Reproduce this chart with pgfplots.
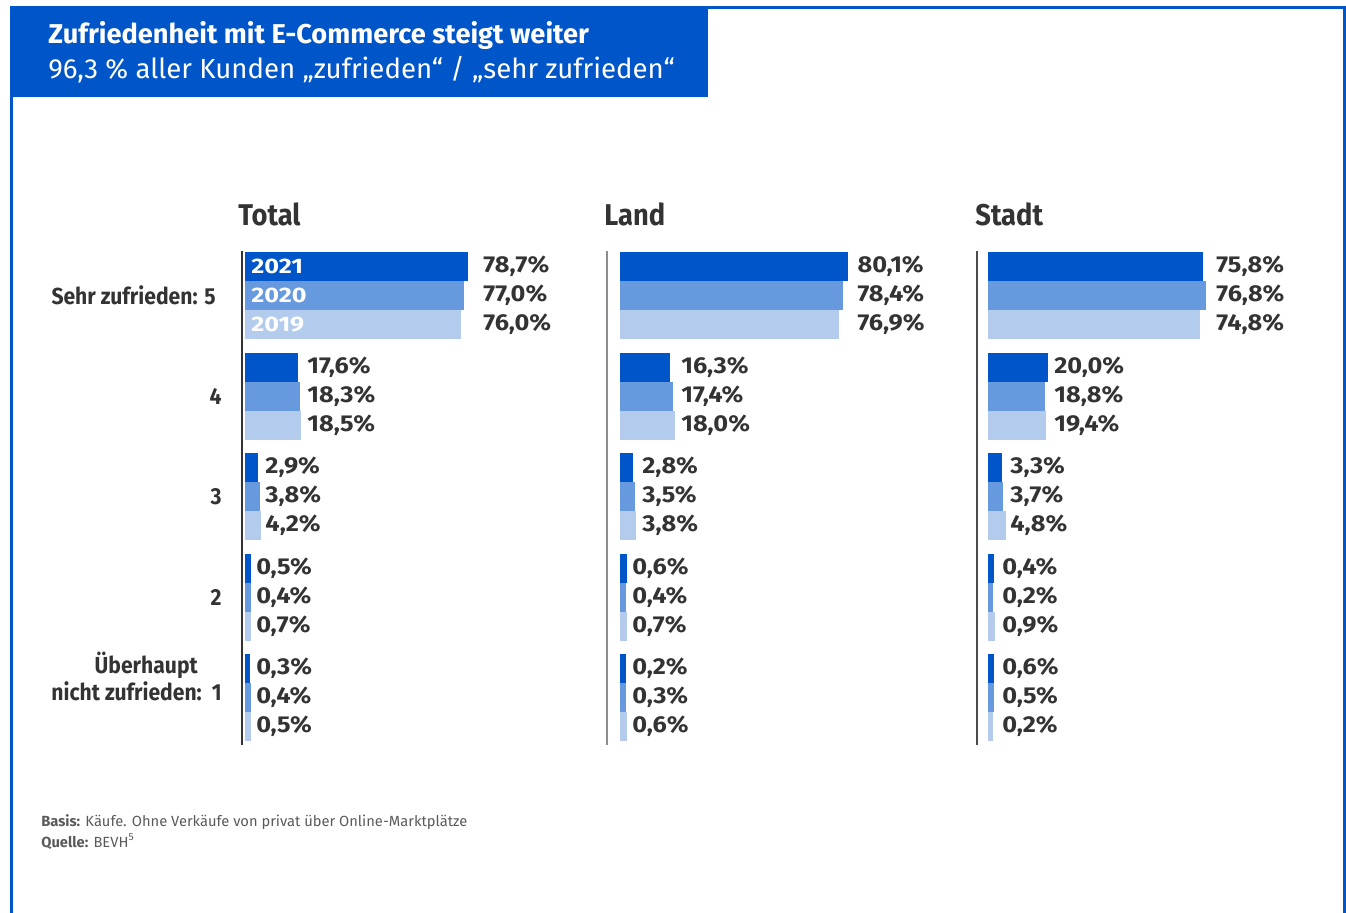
\documentclass[border=0pt]{standalone}
\usepackage{fontspec}
\setmainfont{Fira Sans}
\newfontfamily\condfont{Fira Sans}[FakeStretch=0.91]
\newfontfamily\numfont{Fira Sans}[FakeStretch=1.1]
\newfontfamily\yearfont{Fira Sans}[FakeStretch=1.2]
\usepackage{pgfplots}
\usepackage{pgfplotstable}
\pgfplotsset{compat=1.18}

\definecolor{c21}{HTML}{0055C8}
\definecolor{c20}{HTML}{6699DD}
\definecolor{c19}{HTML}{B3CCEE}
\definecolor{txt}{HTML}{333333}
\definecolor{foot}{HTML}{5A5A5A}

% shares in percent; y = rating group (0 = "5" ... -4 = "1"), lx = where the value labels start
\pgfplotstableread{
y   v21  v20  v19  lx
0   78.7 77.0 76.0 84.9
-1  17.6 18.3 18.5 21.6
-2  2.9  3.8  4.2  6.5
-3  0.5  0.4  0.7  3.2
-4  0.3  0.4  0.5  3.2
}\total
\pgfplotstableread{
y   v21  v20  v19  lx
0   80.1 78.4 76.9 84.4
-1  16.3 17.4 18.0 21.0
-2  2.8  3.5  3.8  7.0
-3  0.6  0.4  0.7  3.4
-4  0.2  0.3  0.6  3.4
}\land
\pgfplotstableread{
y   v21  v20  v19  lx
0   75.8 76.8 74.8 81.3
-1  20.0 18.8 19.4 23.0
-2  3.3  3.7  4.8  7.2
-3  0.4  0.2  0.9  4.3
-4  0.6  0.5  0.2  4.3
}\stadt

\pgfplotsset{
  panel/.style={x=1.39pt, y=50.25pt, ymin=-4.473, ymax=0.443, xmax=95,
    hide x axis, axis y line*=left, axis line style={-},
    major tick length=0pt, clip=false, anchor=north west, ytick=\empty},
  bars/.style={xbar, bar width=0.2388, line width=2.5pt, fill=#1, draw=#1},
  vals/.style={draw=none, point meta=explicit,
    nodes near coords={\pgfmathprintnumber[fixed,fixed zerofill,precision=1,use comma,assume math mode=true]{\pgfplotspointmeta}\%},
    nodes near coords align=horizontal,
    every node near coord/.append style={anchor=west, inner sep=0pt,
      font=\numfont\fontsize{11.5}{12}\selectfont\bfseries, text=txt}},
}
\tikzset{yearlab/.style={anchor=west, inner sep=0pt, text=white, font=\yearfont\fontsize{10.5}{12}\selectfont\bfseries}}

% draws the three bars and value labels of one panel
\newcommand{\panelbars}[1]{%
  \addplot[bars=c21, bar shift=0.2886] table[x=v21, y=y] {#1};
  \addplot[bars=c20, bar shift=0] table[x=v20, y=y] {#1};
  \addplot[bars=c19, bar shift=-0.2886] table[x=v19, y=y] {#1};
  \addplot[vals] table[x=lx, y expr=\thisrow{y}+0.2886, meta=v21] {#1};
  \addplot[vals] table[x=lx, y=y, meta=v20] {#1};
  \addplot[vals] table[x=lx, y expr=\thisrow{y}-0.2886, meta=v19] {#1};
}

\begin{document}
\begin{tikzpicture}
\path[use as bounding box] (0pt,0pt) rectangle (673pt,456pt);

% frame and header
\draw[c21, line width=1.5pt] (5.5pt,-2pt) -- (5.5pt,452pt) -- (672.2pt,452pt) -- (672.2pt,-2pt);
\fill[c21] (5pt,407.5pt) rectangle (354pt,452.5pt);
\node[anchor=base west, inner sep=0pt, text=white, font=\fontsize{13.6}{15}\selectfont\bfseries]
  at (24pt,434pt) {Zufriedenheit mit E-Commerce steigt weiter};
\node[anchor=base west, inner sep=0pt, text=white, font=\fontsize{13.8}{16}\selectfont]
  at (24pt,416.5pt) {96,3 \% aller Kunden „zufrieden“ / „sehr zufrieden“};

% panel titles
\foreach \px/\t in {119/Total, 302/Land, 487.5/Stadt}
  \node[anchor=base west, inner sep=0pt, text=txt, font=\condfont\fontsize{15}{16}\selectfont\bfseries]
    at (\px pt,343pt) {\t};

% Total
\begin{axis}[panel, at={(121pt,330.5pt)}, xmin=-1.8,
  axis line style={black!80, line width=0.6pt},
  ytick={0,-1,-2,-3}, yticklabels={Sehr zufrieden: 5\kern3pt, 4, 3, 2},
  yticklabel style={anchor=east, inner sep=0pt, xshift=-10pt, text=txt,
    font=\condfont\fontsize{11.6}{13}\selectfont\bfseries}]
\panelbars{\total}
\node[anchor=east, align=right, inner sep=0pt, xshift=-10pt, yshift=10.5pt, text=txt,
  font=\condfont\fontsize{11.6}{13.5}\selectfont\bfseries]
  at (axis cs:-1.8,-4) {Überhaupt\hphantom{\ \ 1}\kern2pt\\nicht zufrieden:\ \ 1};
\node[yearlab] at (axis cs:1.4,0.2886) {2021};
\node[yearlab] at (axis cs:1.4,0) {2020};
\node[yearlab] at (axis cs:1.4,-0.2886) {2019};
\end{axis}

% Land
\begin{axis}[panel, at={(303.5pt,330.5pt)}, xmin=-5.58,
  axis line style={black!45, line width=1pt}]
\panelbars{\land}
\end{axis}

% Stadt
\begin{axis}[panel, at={(488.5pt,330.5pt)}, xmin=-4.68,
  axis line style={black!70, line width=0.6pt}]
\panelbars{\stadt}
\end{axis}

% notes
\node[anchor=base west, inner sep=0pt, text=foot, font=\fontsize{7.35}{9}\selectfont]
  at (20.5pt,43pt) {\textbf{Basis:} Käufe. Ohne Verkäufe von privat über Online-Marktplätze};
\node[anchor=base west, inner sep=0pt, text=foot, font=\fontsize{7.35}{9}\selectfont]
  at (20.5pt,32.5pt) {\textbf{Quelle:} BEVH\textsuperscript{5}};
\end{tikzpicture}
\end{document}
